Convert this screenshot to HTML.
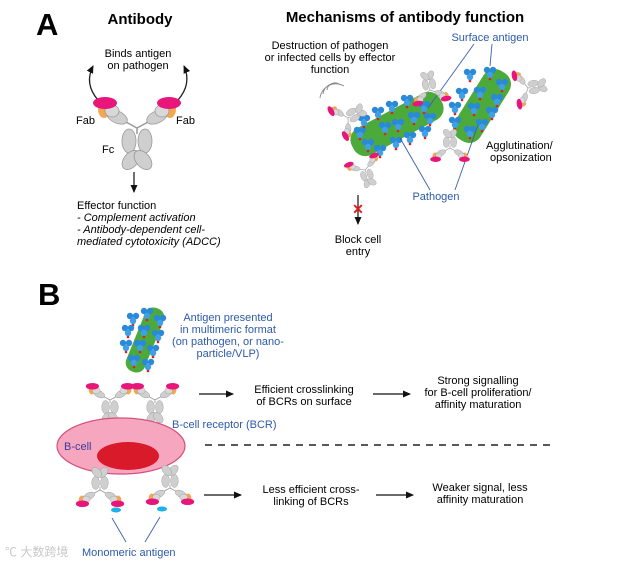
<!DOCTYPE html>
<html><head><meta charset="utf-8"><style>
html,body{margin:0;padding:0;background:#fff}
svg{display:block}
text{font-family:"Liberation Sans",Arial,sans-serif}
</style></head><body>
<svg width="642" height="563" viewBox="0 0 642 563" xmlns="http://www.w3.org/2000/svg">
<defs>
<marker id="ah" markerWidth="8" markerHeight="8" refX="7" refY="4" orient="auto" markerUnits="userSpaceOnUse"><path d="M0,0.5 L8,4 L0,7.5z" fill="#111"/></marker>
<g id="ab">
 <path d="M-22,-12 L0,0 L22,-12 M0,0 L0,6" stroke="#999" stroke-width="1.5" fill="none"/>
 <ellipse cx="-33" cy="-19" rx="6" ry="9" fill="#f2a850"/>
 <ellipse cx="33" cy="-19" rx="6" ry="9" fill="#f2a850"/>
 <ellipse cx="-20" cy="-11" rx="11" ry="6" transform="rotate(25 -20 -11)" fill="#cfcfcf" stroke="#999" stroke-width="0.8"/>
 <ellipse cx="-25" cy="-17" rx="7" ry="6" fill="#d8d8d8" stroke="#999" stroke-width="0.8"/>
 <ellipse cx="20" cy="-11" rx="11" ry="6" transform="rotate(-25 20 -11)" fill="#cfcfcf" stroke="#999" stroke-width="0.8"/>
 <ellipse cx="25" cy="-17" rx="7" ry="6" fill="#d8d8d8" stroke="#999" stroke-width="0.8"/>
 <ellipse cx="-32" cy="-25" rx="12" ry="6" fill="#e8157a"/>
 <ellipse cx="32" cy="-25" rx="12" ry="6" fill="#e8157a"/>
 <ellipse cx="-8" cy="13" rx="7" ry="12" fill="#cfcfcf" stroke="#999" stroke-width="0.8"/>
 <ellipse cx="8" cy="13" rx="7" ry="12" fill="#cfcfcf" stroke="#999" stroke-width="0.8"/>
 <ellipse cx="-6" cy="32" rx="7" ry="11" transform="rotate(40 -6 32)" fill="#cfcfcf" stroke="#999" stroke-width="0.8"/>
 <ellipse cx="6" cy="32" rx="7" ry="11" transform="rotate(-40 6 32)" fill="#cfcfcf" stroke="#999" stroke-width="0.8"/>
</g>
<g id="ag">
 <circle cx="-3" cy="-2" r="3.2" fill="#2a8ad8"/><circle cx="3" cy="-2" r="3.2" fill="#2a8ad8"/><circle cx="0" cy="3" r="3.2" fill="#3fa0e8"/>
 <circle cx="0" cy="7" r="1.3" fill="#e02020"/>
</g>
</defs>

<!-- Panel A -->
<text x="36" y="35" font-size="31" font-weight="bold">A</text>
<text x="140" y="24" font-size="15" font-weight="bold" text-anchor="middle">Antibody</text>
<text x="405" y="22" font-size="15" font-weight="bold" text-anchor="middle">Mechanisms of antibody function</text>
<text x="138" y="57" font-size="11" text-anchor="middle">Binds antigen</text>
<text x="138" y="69" font-size="11" text-anchor="middle">on pathogen</text>
<path d="M98,100 Q84,84 93,66" stroke="#222" stroke-width="1.3" fill="none" marker-end="url(#ah)"/>
<path d="M178,100 Q192,84 184,66" stroke="#222" stroke-width="1.3" fill="none" marker-end="url(#ah)"/>
<use href="#ab" transform="translate(137,128)"/>
<text x="76" y="124" font-size="11">Fab</text>
<text x="176" y="124" font-size="11">Fab</text>
<text x="102" y="153" font-size="11">Fc</text>
<line x1="134" y1="172" x2="134" y2="192" stroke="#111" stroke-width="1.2" marker-end="url(#ah)"/>
<text x="77" y="209" font-size="11">Effector function</text>
<text x="77" y="221" font-size="11" font-style="italic">- Complement activation</text>
<text x="77" y="233" font-size="11" font-style="italic">- Antibody-dependent cell-</text>
<text x="77" y="245" font-size="11" font-style="italic">mediated cytotoxicity (ADCC)</text>

<text x="330" y="49" font-size="11" text-anchor="middle">Destruction of pathogen</text>
<text x="330" y="61" font-size="11" text-anchor="middle">or infected cells by effector</text>
<text x="330" y="73" font-size="11" text-anchor="middle">function</text>
<text x="490" y="41" font-size="11" fill="#2d5aa8" text-anchor="middle">Surface antigen</text>
<path d="M327,90 a8,8 0 0 1 12,-6 M323,94 a12,12 0 0 1 18,-9 M320,98 a16,16 0 0 1 24,-12" stroke="#888" fill="none" stroke-width="0.9"/>
<!-- pathogens -->
<g transform="translate(397,124) rotate(-28)">
 <rect x="-50" y="-15" width="100" height="30" rx="13" fill="#4caa3a"/>
 <g fill="none"></g>
</g>
<g transform="translate(482,106) rotate(-58)">
 <rect x="-40" y="-15" width="80" height="30" rx="13" fill="#4caa3a"/>
</g>
<g>
 <use href="#ag" transform="translate(360,132)"/><use href="#ag" transform="translate(364,120)"/><use href="#ag" transform="translate(378,112)"/><use href="#ag" transform="translate(392,106)"/><use href="#ag" transform="translate(407,100)"/><use href="#ag" transform="translate(424,106)"/><use href="#ag" transform="translate(430,118)"/><use href="#ag" transform="translate(368,144)"/><use href="#ag" transform="translate(380,150)"/><use href="#ag" transform="translate(396,142)"/><use href="#ag" transform="translate(410,137)"/><use href="#ag" transform="translate(425,131)"/><use href="#ag" transform="translate(398,124)"/><use href="#ag" transform="translate(385,127)"/><use href="#ag" transform="translate(414,117)"/>
 <use href="#ag" transform="translate(470,74)"/><use href="#ag" transform="translate(490,72)"/><use href="#ag" transform="translate(502,84)"/><use href="#ag" transform="translate(497,99)"/><use href="#ag" transform="translate(492,112)"/><use href="#ag" transform="translate(482,124)"/><use href="#ag" transform="translate(470,131)"/><use href="#ag" transform="translate(455,122)"/><use href="#ag" transform="translate(455,107)"/><use href="#ag" transform="translate(462,93)"/><use href="#ag" transform="translate(480,92)"/><use href="#ag" transform="translate(474,108)"/>
</g>
<line x1="474" y1="44" x2="428" y2="108" stroke="#3a5fae" stroke-width="0.9"/>
<line x1="492" y1="44" x2="490" y2="66" stroke="#3a5fae" stroke-width="0.9"/>
<line x1="400" y1="138" x2="430" y2="190" stroke="#3a5fae" stroke-width="0.9"/>
<line x1="478" y1="125" x2="455" y2="190" stroke="#3a5fae" stroke-width="0.9"/>
<!-- small antibodies panel A -->
<use href="#ab" transform="translate(348,118) rotate(-120) scale(0.45)"/>
<use href="#ab" transform="translate(430,90) rotate(170) scale(0.45)"/>
<use href="#ab" transform="translate(450,148) rotate(180) scale(0.45)"/>
<use href="#ab" transform="translate(528,88) rotate(-100) scale(0.45)"/>
<use href="#ab" transform="translate(365,170) rotate(-20) scale(0.42)"/>
<text x="486" y="149" font-size="11">Agglutination/</text>
<text x="490" y="161" font-size="11">opsonization</text>
<text x="436" y="200" font-size="11" fill="#2d5aa8" text-anchor="middle">Pathogen</text>
<line x1="358" y1="195" x2="358" y2="224" stroke="#111" stroke-width="1.2" marker-end="url(#ah)"/>
<text x="358" y="214" font-size="14" font-weight="bold" fill="#e02020" text-anchor="middle">✕</text>
<text x="358" y="243" font-size="11" text-anchor="middle">Block cell</text>
<text x="358" y="255" font-size="11" text-anchor="middle">entry</text>

<!-- Panel B -->
<text x="38" y="305" font-size="31" font-weight="bold">B</text>
<g fill="#2d5aa8" font-size="11" text-anchor="middle">
<text x="228" y="321">Antigen presented</text>
<text x="228" y="333">in multimeric format</text>
<text x="228" y="345">(on pathogen, or nano-</text>
<text x="228" y="357">particle/VLP)</text>
</g>
<g transform="translate(145,340) rotate(-68)">
 <rect x="-34" y="-10" width="68" height="20" rx="9" fill="#4caa3a"/>
</g>
<use href="#ag" transform="translate(133,318)"/><use href="#ag" transform="translate(147,313)"/><use href="#ag" transform="translate(160,320)"/><use href="#ag" transform="translate(158,335)"/><use href="#ag" transform="translate(153,350)"/><use href="#ag" transform="translate(148,364)"/><use href="#ag" transform="translate(134,360)"/><use href="#ag" transform="translate(126,345)"/><use href="#ag" transform="translate(128,330)"/><use href="#ag" transform="translate(144,330)"/><use href="#ag" transform="translate(140,345)"/>
<use href="#ab" transform="translate(110,400) scale(0.55)"/>
<use href="#ab" transform="translate(155,400) scale(0.55)"/>
<path d="M116,433 q8,-8 14,0 M112,430 q12,-12 22,0 M140,433 q8,-8 14,0 M136,430 q12,-12 22,0" stroke="#888" fill="none" stroke-width="0.8"/>
<ellipse cx="121" cy="446" rx="64" ry="28" fill="#f7a6c0" stroke="#d6507c" stroke-width="1.2"/>
<ellipse cx="128" cy="456" rx="31" ry="14" fill="#d91a2a"/>
<text x="64" y="450" font-size="11" fill="#3a3a9a">B-cell</text>
<text x="172" y="428" font-size="11" fill="#2d5aa8">B-cell receptor (BCR)</text>
<use href="#ab" transform="translate(100,490) rotate(180) scale(0.55)"/>
<use href="#ab" transform="translate(170,488) rotate(180) scale(0.55)"/>
<ellipse cx="116" cy="510" rx="5" ry="2.5" fill="#1fb0e8"/>
<ellipse cx="162" cy="509" rx="5" ry="2.5" fill="#1fb0e8"/>
<line x1="112" y1="518" x2="126" y2="542" stroke="#3a5fae" stroke-width="0.9"/>
<line x1="160" y1="517" x2="145" y2="542" stroke="#3a5fae" stroke-width="0.9"/>
<text x="82" y="556" font-size="11" fill="#2d5aa8">Monomeric antigen</text>
<text x="5" y="556" font-size="12" fill="#c8c8c8">℃ 大数跨境</text>

<line x1="199" y1="394" x2="233" y2="394" stroke="#111" stroke-width="1.2" marker-end="url(#ah)"/>
<text x="304" y="393" font-size="11" text-anchor="middle">Efficient crosslinking</text>
<text x="304" y="405" font-size="11" text-anchor="middle">of BCRs on surface</text>
<line x1="373" y1="394" x2="410" y2="394" stroke="#111" stroke-width="1.2" marker-end="url(#ah)"/>
<text x="478" y="384" font-size="11" text-anchor="middle">Strong signalling</text>
<text x="478" y="396" font-size="11" text-anchor="middle">for B-cell proliferation/</text>
<text x="478" y="408" font-size="11" text-anchor="middle">affinity maturation</text>
<line x1="205" y1="445" x2="552" y2="445" stroke="#222" stroke-width="1.6" stroke-dasharray="7,6"/>
<line x1="204" y1="495" x2="241" y2="495" stroke="#111" stroke-width="1.2" marker-end="url(#ah)"/>
<text x="311" y="493" font-size="11" text-anchor="middle">Less efficient cross-</text>
<text x="311" y="505" font-size="11" text-anchor="middle">linking of BCRs</text>
<line x1="376" y1="495" x2="413" y2="495" stroke="#111" stroke-width="1.2" marker-end="url(#ah)"/>
<text x="480" y="491" font-size="11" text-anchor="middle">Weaker signal, less</text>
<text x="480" y="503" font-size="11" text-anchor="middle">affinity maturation</text>
</svg>
</body></html>
